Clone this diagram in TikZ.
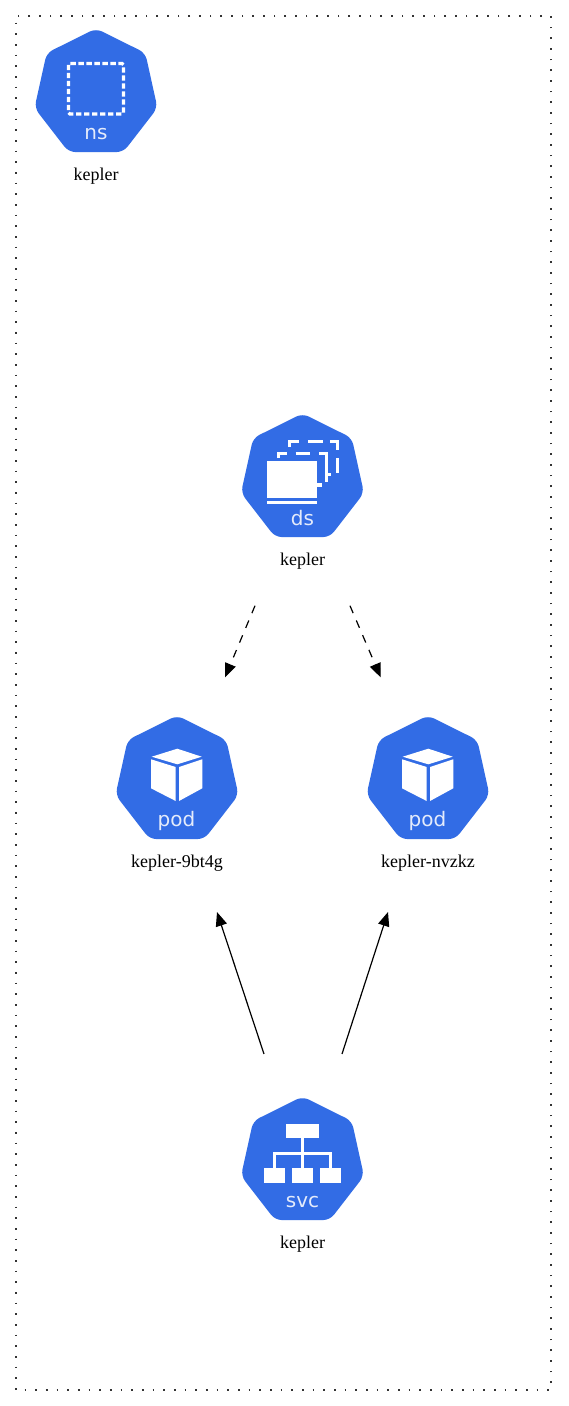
\documentclass[tikz,border=0pt]{standalone}
\usepackage{fontspec}
\setmainfont{Liberation Serif}
\newfontfamily\iconfont{DejaVu Sans}
\usetikzlibrary{shapes.geometric,arrows.meta,calc}
\definecolor{kblue}{HTML}{326CE5}
\definecolor{ktext}{HTML}{E4EBFB}
\tikzset{
  heptagon/.style={regular polygon,regular polygon sides=7,fill=kblue,draw=none,minimum size=97.5pt,inner sep=0pt,outer sep=0pt,rounded corners=5pt,xscale=0.97},
  area/.style={rectangle,draw=none,fill=none,minimum width=180pt,minimum height=176pt,inner sep=0pt,outer sep=0pt},
  caption/.style={anchor=base,font=\fontsize{13.5}{16}\selectfont,text=black,inner sep=0pt},
  icontext/.style={anchor=center,font=\iconfont\fontsize{15}{16}\selectfont,text=ktext,inner sep=0pt},
  iconfill/.style={fill=white,draw=none},
  iconline/.style={draw=white,line width=2.4pt},
  border/.style={draw=black!80,line width=1pt,dash pattern=on 1.2pt off 6.8pt,dash phase=3pt},
  link/.style={draw=black,line width=0.9pt,-{Triangle[length=10.5pt,width=8.5pt]}},
  dashlink/.style={link,dash pattern=on 6pt off 6pt},
}
\begin{document}
\begin{tikzpicture}[x=0.75pt,y=-0.75pt]
\useasboundingbox (0,0) rectangle (568,1406);
\fill[white] (0,0) rectangle (568,1406);
\draw[border] (16,16) rectangle (551,1390);

% namespace
\node[heptagon] (ns) at (96,93.5) {};
\draw[draw=white,line width=2.4pt,dash pattern=on 4pt off 2pt,rounded corners=1pt] (68.5,63.5) rectangle (123.5,114);
\node[icontext] (nstext) at (96,134) {ns};
\node[caption] (nslabel) at (96,180.5) {kepler};

% daemonset
\node[heptagon] (ds) at (302.5,478.5) {};
\fill[iconfill] (266.7,461) rectangle (316.7,497.7);
\fill[iconfill] (266.7,501) rectangle (316.7,504.3);
\draw[iconline] (278.5,458) -- (278.5,453.5) -- (286.7,453.5);
\draw[iconline] (295.7,453.5) -- (310,453.5);
\draw[iconline] (319,453.5) -- (326.5,453.5) -- (326.5,482);
\draw[iconline] (326.5,474.5) -- (330.5,474.5);
\draw[iconline] (316.7,485) -- (321.7,485);
\draw[iconline] (289.5,447) -- (289.5,441.5) -- (299,441.5);
\draw[iconline] (308.3,441.5) -- (323.3,441.5);
\draw[iconline] (330,441.5) -- (337.5,441.5) -- (337.5,450);
\draw[iconline] (337.5,458.3) -- (337.5,473.3);
\node[icontext] (dstext) at (302.5,518.5) {ds};
\node[caption] (dslabel) at (302.5,565.5) {kepler};
\node[area] (dsarea) at (302.5,488.4) {};

% pods
\foreach \nm/\cx/\lab in {podA/177/kepler-9bt4g,podB/428/kepler-nvzkz}{
  \node[heptagon] (\nm) at (\cx,780.5) {};
  \begin{scope}[shift={(\cx,0)}]
    \fill[iconfill] (0.3,748.7) -- (24.7,756.7) -- (0.3,764.3) -- (-25.3,756.7) -- cycle;
    \fill[iconfill] (-26,759.3) -- (-1.3,767) -- (-1.3,801) -- (-26,788.3) -- cycle;
    \fill[iconfill] (2,767) -- (25.3,759.3) -- (25.3,788.3) -- (2,801) -- cycle;
  \end{scope}
  \node[icontext] (\nm-text) at (\cx-0.5,820.5) {pod};
  \node[caption] (\nm-label) at (\cx,867.5) {\lab};
  \node[area] (\nm-area) at (\cx,794.7) {};
}

% service
\node[heptagon] (svc) at (302.5,1161.5) {};
\fill[iconfill] (286,1124) rectangle (319,1138.3);
\fill[iconfill] (264,1168.3) rectangle (285,1182.7);
\fill[iconfill] (292,1168.3) rectangle (313,1182.7);
\fill[iconfill] (320.3,1168.3) rectangle (341,1182.7);
\draw[draw=white,line width=2.4pt] (302.5,1138) -- (302.5,1168.5);
\draw[draw=white,line width=2.4pt] (274.5,1168.5) -- (274.5,1153.3) -- (330.7,1153.3) -- (330.7,1168.5);
\node[icontext] (svctext) at (302.5,1202) {svc};
\node[caption] (svclabel) at (302.5,1248) {kepler};
\node[area] (svcarea) at (302.5,1171.3) {};

% connectors
\draw[dashlink] ($(dsarea.south)+(-47.5,0)$) -- ($(podA-area.north)+(48,0)$);
\draw[dashlink] ($(dsarea.south)+(47.5,0)$) -- ($(podB-area.north)+(-47.3,0)$);
\draw[link] ($(svcarea.north)+(-38.5,0)$) -- ($(podA-area.south)+(40,0)$);
\draw[link] ($(svcarea.north)+(39.5,0)$) -- ($(podB-area.south)+(-40,0)$);
\end{tikzpicture}
\end{document}
